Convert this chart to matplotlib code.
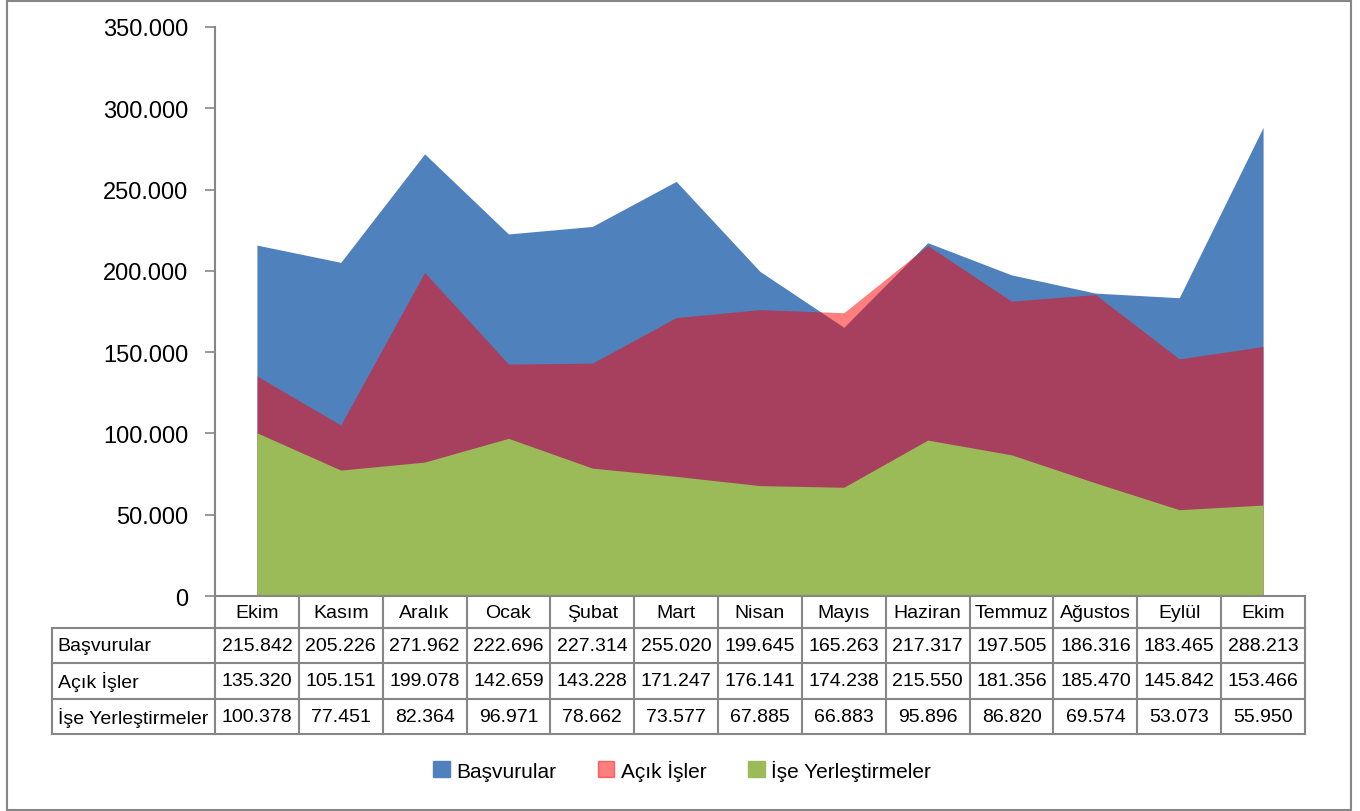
import matplotlib
matplotlib.use("Agg")
import matplotlib.pyplot as plt
from matplotlib.patches import Patch, Rectangle
from matplotlib.ticker import FuncFormatter

plt.rcParams['font.family'] = ['Liberation Sans', 'DejaVu Sans']

months = ["Ekim", "Kasım", "Aralık", "Ocak", "Şubat", "Mart", "Nisan",
          "Mayıs", "Haziran", "Temmuz", "Ağustos", "Eylül", "Ekim"]
basvurular = [215842, 205226, 271962, 222696, 227314, 255020, 199645,
              165263, 217317, 197505, 186316, 183465, 288213]
acik_isler = [135320, 105151, 199078, 142659, 143228, 171247, 176141,
              174238, 215550, 181356, 185470, 145842, 153466]
ise_yerlestirmeler = [100378, 77451, 82364, 96971, 78662, 73577, 67885,
                      66883, 95896, 86820, 69574, 53073, 55950]
series_names = ["Başvurular", "Açık İşler", "İşe Yerleştirmeler"]
legend_names = ["Başvurular", "Açık İşler", "İşe Yerleştirmeler"]

blue = "#4F81BD"
red = (1.0, 0.0, 0.0, 0.5)
green = "#9BBB59"
grey = "#868686"


def tr_fmt(v):
    return f"{int(v):,}".replace(",", ".")


W, H = 1360, 812
fig = plt.figure(figsize=(W / 100, H / 100), dpi=100)
ax = fig.add_axes([215 / W, 1 - 597 / H, (1305 - 215) / W, (597 - 28) / H])

x = list(range(len(months)))
ax.fill_between(x, basvurular, color=blue, lw=0)
ax.fill_between(x, acik_isler, color=red, lw=0)
ax.fill_between(x, ise_yerlestirmeler, color=green, lw=0)

ax.set_xlim(-0.5, len(months) - 0.5)
ax.set_ylim(0, 350000)
ax.set_yticks(range(0, 350001, 50000))
ax.yaxis.set_major_formatter(FuncFormatter(lambda v, p: tr_fmt(v)))
ax.tick_params(axis='y', labelsize=17, length=7, width=1.2, color=grey, pad=12)
ax.set_xticks([])
for s in ["top", "right"]:
    ax.spines[s].set_visible(False)
for s in ["left", "bottom"]:
    ax.spines[s].set_color(grey)
    ax.spines[s].set_linewidth(1.5)

# data table below the plot
tr = ax.get_xaxis_transform()
cat_w = (1305 - 215) / len(months)
x_left = -0.5 - (215 - 52) / cat_w
row_edges = [0, -32 / 569, -67 / 569, -103 / 569, -138 / 569]
line_kw = dict(color=grey, lw=1.5, transform=tr, clip_on=False)

for i in range(len(months) + 1):
    ax.plot([i - 0.5, i - 0.5], [row_edges[0], row_edges[-1]], **line_kw)
ax.plot([x_left, x_left], [row_edges[1], row_edges[-1]], **line_kw)
ax.plot([-0.5, len(months) - 0.5], [row_edges[1], row_edges[1]], **line_kw)
for y in row_edges[1:]:
    ax.plot([x_left, len(months) - 0.5], [y, y], **line_kw)

fs = 14
for i, m in enumerate(months):
    ax.text(i, (row_edges[0] + row_edges[1]) / 2, m, transform=tr,
            ha='center', va='center', fontsize=fs)

rows = [basvurular, acik_isler, ise_yerlestirmeler]
for r, (name, vals) in enumerate(zip(series_names, rows)):
    yc = (row_edges[r + 1] + row_edges[r + 2]) / 2
    ax.text(x_left + 0.07, yc, name, transform=tr, ha='left', va='center',
            fontsize=fs)
    for i, v in enumerate(vals):
        ax.text(i, yc, tr_fmt(v), transform=tr, ha='center', va='center',
                fontsize=fs)

handles = [Patch(color=blue), Patch(color=red), Patch(color=green)]
fig.legend(handles, legend_names, loc='center', bbox_to_anchor=(682 / W, 1 - 771 / H),
           ncol=3, frameon=False, fontsize=15, handlelength=0.8, handleheight=0.8,
           handletextpad=0.3, columnspacing=2.0)

fig.patches.append(Rectangle((7 / W, 1 / H), (1351 - 7) / W, (810 - 1) / H,
                             transform=fig.transFigure, fill=False,
                             edgecolor=grey, lw=1.5))

fig.savefig("out.png", dpi=100)
